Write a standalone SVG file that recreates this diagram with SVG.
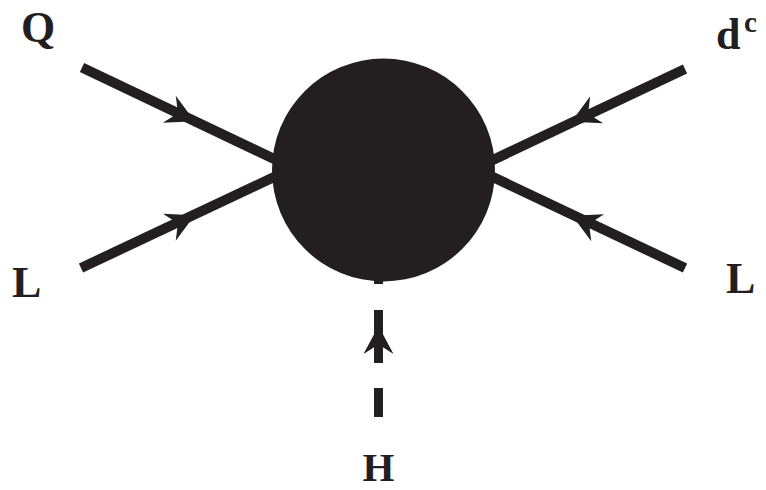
<svg xmlns="http://www.w3.org/2000/svg" xmlns:xlink="http://www.w3.org/1999/xlink" width="766" height="490" viewBox="0 0 766 490">
<style>
.ln{stroke:#231f20;stroke-width:10;fill:none;stroke-linecap:butt}
.dash{stroke:#231f20;stroke-width:9;fill:none;stroke-dasharray:29 25 53 26 200}
.ah{fill:#231f20}
.lbl{font-family:"Liberation Serif","Times New Roman",serif;font-weight:bold;font-size:44px;fill:#231f20}
.hl{font-family:"Liberation Serif","Times New Roman",serif;font-weight:bold;font-size:41px;fill:#231f20}
.sup{font-family:"Liberation Serif","Times New Roman",serif;font-weight:bold;font-size:29px;fill:#231f20}
</style>
<defs>
<path id="arrow" d="M4,0 L-24,15 L-17,4 L-17,-4 L-24,-15 Z"/>
</defs>
<g id="connectors">
<line class="ln" x1="82" y1="67.5" x2="292" y2="167.5"/>
<line class="ln" x1="81" y1="268" x2="292" y2="168.5"/>
<line class="ln" x1="685" y1="69" x2="476" y2="168"/>
<line class="ln" x1="685" y1="268" x2="476" y2="169"/>
<line class="dash" x1="378.5" y1="417" x2="378.5" y2="240"/>
<use class="ah" xlink:href="#arrow" href="#arrow" transform="translate(191,119.5) rotate(25.5)"/>
<use class="ah" xlink:href="#arrow" href="#arrow" transform="translate(191,217) rotate(-25.3)"/>
<use class="ah" xlink:href="#arrow" href="#arrow" transform="translate(575,120) rotate(154.6)"/>
<use class="ah" xlink:href="#arrow" href="#arrow" transform="translate(576,217.5) rotate(205.3)"/>
<use class="ah" xlink:href="#arrow" href="#arrow" transform="translate(378.5,330) rotate(-90)"/>
</g>
<g id="blob">
<circle cx="383.5" cy="170" r="111.5" fill="#231f20"/>
</g>
<g id="label-Q"><text class="lbl" x="21" y="42">Q</text></g>
<g id="label-L-left"><text class="lbl" x="12" y="297">L</text></g>
<g id="label-dc"><text class="lbl" x="716" y="49">d</text><text class="sup" x="744" y="32">c</text></g>
<g id="label-L-right"><text class="lbl" x="726" y="293">L</text></g>
<g id="label-H"><text class="hl" x="378.5" y="481" text-anchor="middle">H</text></g>
</svg>
